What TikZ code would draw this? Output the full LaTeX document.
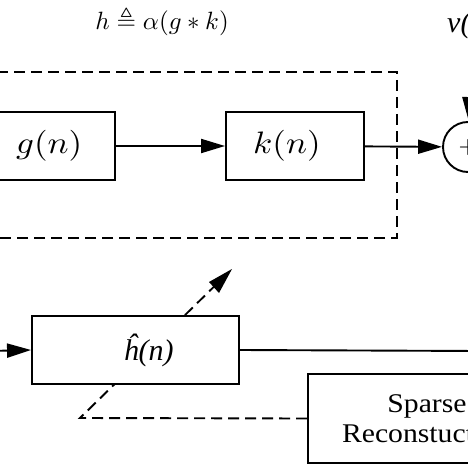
\documentclass[tikz,border=0pt]{standalone}
\usepackage{amsmath,amssymb}
\usepackage{fontspec}
\newfontfamily\tnr{Liberation Serif}
\usetikzlibrary{arrows.meta}
\begin{document}
\begin{tikzpicture}[x=1pt,y=-1pt,
  box/.style={draw,line width=1.9pt,fill=white,inner sep=0pt},
  conn/.style={line width=1.9pt,-{Triangle[length=24pt,width=14pt]}},
  plain/.style={line width=1.9pt},
  dashln/.style={line width=1.9pt,dash pattern=on 11pt off 6pt},
  mathtxt/.style={xscale=3.5,yscale=3.1,inner sep=0pt},
  serif/.style={font=\tnr\fontsize{30}{32}\selectfont}]
\useasboundingbox (0,0) rectangle (468,468);
\clip (0,0) rectangle (468,468);
% formula
\node[scale=2.5,inner sep=0pt] (f) at (162,21) {$h\triangleq\alpha(g*k)$};
% dashed box h
\draw[dashln] (-20,72) -- (397,72) -- (397,238) -- (-20,238);
% blocks
\node[box,minimum width=138pt,minimum height=68pt,
  label={[mathtxt,xshift=0.9pt]center:$g(n)$}] (g) at (46,146) {};
\node[box,minimum width=138pt,minimum height=68pt,
  label={[mathtxt,xshift=-2.3pt]center:$k(n)$}] (k) at (295,146) {};
\node[draw,circle,line width=1.9pt,minimum size=50pt,inner sep=0pt] (sum) at (468,147) {};
\node[scale=2.4,inner sep=0pt] (sgn) at (sum.center) {$+$};
\node[serif,inner sep=1pt,anchor=base west] (v) at (446,33) {\itshape v(n)};
\draw[conn] (g) -- (k);
\draw[conn] (k) -- (sum);
\draw[conn] (v) -- (sum);
% sparse reconstruction
\node[box,minimum width=238pt,minimum height=89pt,
  label={[font=\tnr\fontsize{27}{30}\selectfont,xscale=1.1,align=center]center:Sparse\\Reconstuction}] (sr) at (427,418.5) {};
\coordinate (c1) at (80,418);
\coordinate (tip) at (232,269);
\draw[dashln] (sr.west) -- (c1) -- (tip);
\fill (tip) -- ++(-23,13) -- ++(10,11) -- cycle;
% h hat
\node[box,minimum width=207pt,minimum height=68pt,
  label={[serif,xshift=13pt]center:\itshape \^{h}(n)}] (hh) at (135.5,350) {};
\coordinate (in) at (-10,351);
\coordinate (out) at (480,351);
\draw[conn] (in) -- (hh.west);
\draw[plain] (hh.east) -- (out);
\end{tikzpicture}
\end{document}
